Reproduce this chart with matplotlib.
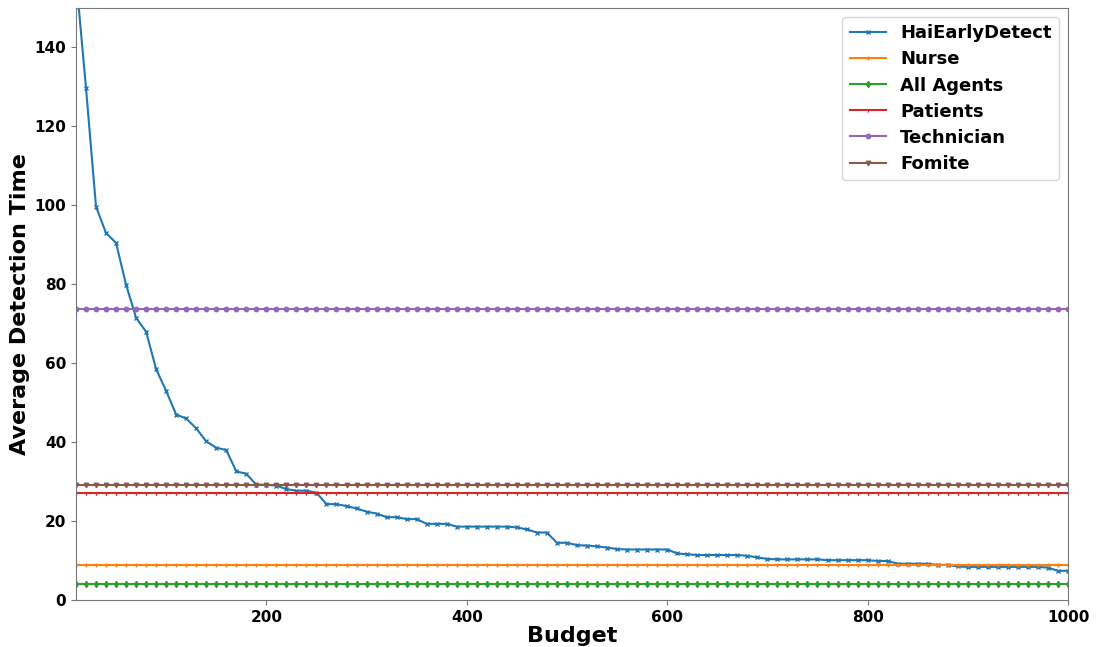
import numpy as np
import matplotlib
matplotlib.use("Agg")
import matplotlib.pyplot as plt

budget = np.arange(10, 1001, 10)

hai_early_detect = [
    158.0, 129.8, 99.7, 93.0, 90.5, 79.9, 71.5, 68.0, 58.5, 53.0,
    47.0, 46.0, 43.5, 40.2, 38.6, 38.0, 32.6, 32.0, 29.2, 29.2,
    29.0, 28.1, 27.7, 27.7, 27.2, 24.3, 24.3, 23.8, 23.2, 22.4,
    21.9, 21.0, 21.0, 20.5, 20.5, 19.3, 19.3, 19.3, 18.6, 18.6,
    18.6, 18.6, 18.6, 18.6, 18.4, 17.9, 17.1, 17.1, 14.5, 14.5,
    13.9, 13.8, 13.6, 13.3, 12.9, 12.8, 12.8, 12.8, 12.8, 12.8,
    11.8, 11.6, 11.4, 11.4, 11.4, 11.4, 11.4, 11.2, 10.8, 10.4,
    10.3, 10.3, 10.3, 10.3, 10.3, 10.1, 10.1, 10.1, 10.1, 10.1,
    9.9, 9.9, 9.2, 9.2, 9.2, 9.2, 8.9, 8.9, 8.5, 8.4,
    8.4, 8.4, 8.4, 8.4, 8.4, 8.4, 8.4, 8.2, 7.4, 7.4,
]

nurse_level = 8.9
all_agents_level = 4.1
patients_level = 27.1
technician_level = 73.8
fomite_level = 29.2

series = [
    ("HaiEarlyDetect", hai_early_detect, "x", "#1f77b4"),
    ("Nurse", [nurse_level] * len(budget), "+", "#ff7f0e"),
    ("All Agents", [all_agents_level] * len(budget), "d", "#2ca02c"),
    ("Patients", [patients_level] * len(budget), "1", "#d62728"),
    ("Technician", [technician_level] * len(budget), "o", "#9467bd"),
    ("Fomite", [fomite_level] * len(budget), "v", "#8c564b"),
]

fig = plt.figure(figsize=(11.04, 6.47), dpi=100)
ax = fig.add_axes([0.0688, 0.0726, 0.8986, 0.915])

for name, vals, mk, col in series:
    ax.plot(budget, vals, marker=mk, markersize=3.2, linewidth=1.5,
            color=col, label=name)

ax.set_xlim(10, 1000)
ax.set_ylim(0, 150)
ax.set_xticks([200, 400, 600, 800, 1000])
ax.set_yticks([0, 20, 40, 60, 80, 100, 120, 140])
for lbl in ax.get_xticklabels() + ax.get_yticklabels():
    lbl.set_fontweight("bold")
    lbl.set_fontsize(11)
for sp in ax.spines.values():
    sp.set_color("#777777")
ax.tick_params(color="#777777")

ax.set_xlabel("Budget", fontsize=16, fontweight="bold", labelpad=1)
ax.set_ylabel("Average Detection Time", fontsize=16, fontweight="bold", labelpad=3)

ax.legend(loc="upper right", prop={"size": 13, "weight": "bold"},
          handlelength=2.0, labelspacing=0.45, borderaxespad=0.5)

fig.savefig("out.png", dpi=100)
